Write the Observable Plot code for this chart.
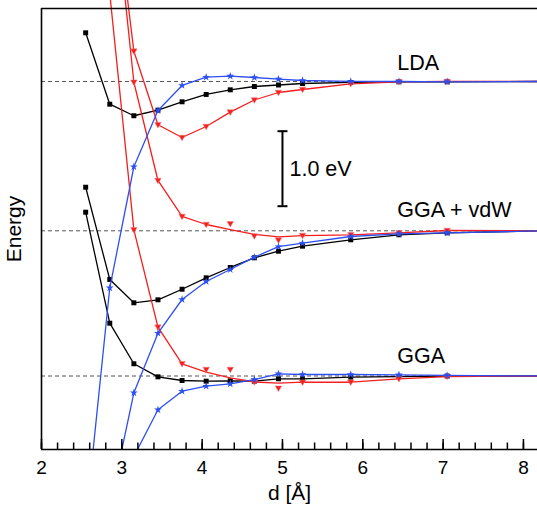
<!DOCTYPE html>
<html><head><meta charset="utf-8">
<script src="https://cdn.jsdelivr.net/npm/d3@7"></script>
<script src="https://cdn.jsdelivr.net/npm/@observablehq/plot@0.6"></script>
<style>body{margin:0;background:#fff} svg{display:block}</style>
</head><body><div id="chart"></div>
<script>
// distances d [Å]
const dist = [2.55, 2.85, 3.15, 3.45, 3.75, 4.05, 4.35, 4.65, 4.95, 5.25, 5.85, 6.45, 7.05, 8.25];
// methods and their vertical offsets (eV)
const methods = ["LDA", "GGA + vdW", "GGA"];
const offsets = [3.927, 1.936, 0];
// energies relative to each method's asymptote (eV); null = not shown
const blackLDA = [0.649, -0.303, -0.457, -0.383, -0.271, -0.173, -0.111, -0.067, -0.047, -0.027, -0.013, -0.004, -0.004, 0];
const blueLDA  = [-5.88, -2.751, -1.137, -0.387, -0.053, 0.057, 0.071, 0.053, 0.031, 0.013, 0, 0, -0.004, 0];
const redLDA   = [null, 3.027, 0.404, -0.577, -0.747, -0.6, -0.409, -0.247, -0.147, -0.107, -0.031, -0.004, 0, 0];
const redLDAfit = [null, 3.027, 0.404, -0.577, -0.747, -0.6, -0.409, -0.247, -0.147, -0.107, -0.031, -0.004, 0, 0];
const blackVdW = [0.581, -0.649, -0.96, -0.92, -0.779, -0.627, -0.489, -0.36, -0.272, -0.205, -0.12, -0.053, -0.027, 0];
const blueVdW  = [null, -3.676, -2.16, -1.365, -0.916, -0.676, -0.516, -0.352, -0.212, -0.165, -0.076, -0.04, -0.027, 0];
const redVdW   = [null, 5.04, 1.981, 0.671, 0.191, 0.084, 0.093, -0.069, -0.125, -0.063, -0.053, -0.027, 0.004, 0];
const redVdWfit = [null, 5.04, 1.981, 0.671, 0.191, 0.084, 0.017, -0.049, -0.08, -0.063, -0.053, -0.027, 0.004, 0];
const blackGGA = [2.184, 0.704, 0.163, -0.011, -0.06, -0.069, -0.064, -0.069, -0.037, -0.037, -0.016, -0.007, 0, 0];
const blueGGA  = [null, null, -1.073, -0.451, -0.203, -0.136, -0.104, -0.047, 0.029, 0.02, 0.02, 0.016, 0.007, 0];
const redGGA   = [null, 5.1, 1.949, 0.651, 0.163, 0.087, 0.087, -0.08, -0.163, -0.083, -0.083, -0.037, -0.007, 0];
const redGGAfit = [null, 5.1, 1.949, 0.651, 0.163, 0.051, -0.024, -0.08, -0.096, -0.083, -0.083, -0.037, -0.007, 0];

const xTicks = [2, 3, 4, 5, 6, 7, 8];
const xMinorTicks = d3.range(2, 8.2, 0.2).map(v => +v.toFixed(1));
const xDomain = [2, 8.175];
const yDomain = [-0.98, 4.9];
const labelX = 6.43;
const labelY = [4.08, 2.117, 0.176];
const scaleBarX = 5.0;
const scaleBarY = [2.264, 3.264];
const scaleBarText = "1.0 eV";

const colors = {black: "#000000", blue: "#2d4ff2", red: "#f41e1e"};

function rows(series, method, vals) {
  const k = methods.indexOf(method);
  return vals.map((v, i) => v == null ? null : {series, method, x: dist[i], y: v + offsets[k]}).filter(Boolean);
}
const black = [...rows("black", "LDA", blackLDA), ...rows("black", "GGA + vdW", blackVdW), ...rows("black", "GGA", blackGGA)];
const blue = [...rows("blue", "LDA", blueLDA), ...rows("blue", "GGA + vdW", blueVdW), ...rows("blue", "GGA", blueGGA)];
const red = [...rows("red", "LDA", redLDA), ...rows("red", "GGA + vdW", redVdW), ...rows("red", "GGA", redGGA)];
const redFit = [...rows("red", "LDA", redLDAfit), ...rows("red", "GGA + vdW", redVdWfit), ...rows("red", "GGA", redGGAfit)];

const triDown = {draw(ctx, size) {
  const r = Math.sqrt(size / Math.PI);
  ctx.moveTo(-r * 1.05, -r * 0.75);
  ctx.lineTo(r * 1.05, -r * 0.75);
  ctx.lineTo(0, r * 1.05);
  ctx.closePath();
}};
const capH = half => ({draw(ctx) { ctx.moveTo(-half, 0); ctx.lineTo(half, 0); }});

const W = 537, H = 508, mT = 8, mB = 59, mL = 41, mR = 0;
const eVperPx = (yDomain[1] - yDomain[0]) / (H - mT - mB);
const majorLen = 10, minorLen = 6.5;
const font = "'Liberation Sans', Arial, Helvetica, sans-serif";

const chart = Plot.plot({
  width: W, height: H,
  marginTop: mT, marginBottom: mB, marginLeft: mL, marginRight: mR,
  style: {fontFamily: font, fontSize: "19px", background: "#fff"},
  x: {domain: xDomain},
  y: {domain: yDomain, axis: null},
  marks: [
    Plot.ruleY(offsets, {stroke: "#555", strokeWidth: 1, strokeDasharray: "4,3"}),
    Plot.line(black, {x: "x", y: "y", z: "method", stroke: colors.black, strokeWidth: 1.3, clip: true}),
    Plot.dot(black, {x: "x", y: "y", symbol: "square", r: 2.8, fill: colors.black}),
    Plot.line(redFit, {x: "x", y: "y", z: "method", stroke: colors.red, strokeWidth: 1.3}),
    Plot.dot(red, {x: "x", y: "y", symbol: triDown, r: 3.1, fill: colors.red, stroke: "#f08080", strokeWidth: 0.5}),
    Plot.line(blue, {x: "x", y: "y", z: "method", stroke: colors.blue, strokeWidth: 1.3, clip: true}),
    Plot.dot(blue, {x: "x", y: "y", symbol: "star", r: 2.5, fill: colors.blue, clip: true}),
    // frame
    Plot.ruleX([xDomain[0]], {stroke: "#000", strokeWidth: 1.6}),
    Plot.ruleY(yDomain, {stroke: "#000", strokeWidth: 1.6}),
    Plot.axisX(xTicks, {tickSize: 0, tickPadding: 11, fontSize: 19, label: null}),
    Plot.text(["d [Å]"], {frameAnchor: "bottom", dy: 50, lineAnchor: "bottom", fontSize: 21}),
    Plot.text(["Energy"], {frameAnchor: "left", dx: -27, rotate: -90, textAnchor: "middle", fontSize: 21}),
    // method labels
    Plot.text(methods, {x: () => labelX, y: (d, i) => labelY[i], text: d => d, textAnchor: "start", lineAnchor: "bottom", fontSize: 21.5}),
    // scale bar
    Plot.ruleX([scaleBarX], {y1: scaleBarY[0], y2: scaleBarY[1], stroke: "#000", strokeWidth: 2}),
    Plot.dot(scaleBarY, {x: () => scaleBarX, y: d => d, symbol: capH(5), stroke: "#000", fill: "none", strokeWidth: 2}),
    Plot.text([scaleBarText], {x: scaleBarX, y: (scaleBarY[0] + scaleBarY[1]) / 2, dx: 7, textAnchor: "start", fontSize: 21.5}),
    // inward ticks (drawn last)
    Plot.ruleX(xMinorTicks, {y1: yDomain[0], y2: yDomain[0] + minorLen * eVperPx, stroke: "#000", strokeWidth: 1.5}),
    Plot.ruleX(xTicks, {y1: yDomain[0], y2: yDomain[0] + majorLen * eVperPx, stroke: "#000", strokeWidth: 1.5})
  ]
});
document.getElementById("chart").appendChild(chart);
</script>
</body></html>
